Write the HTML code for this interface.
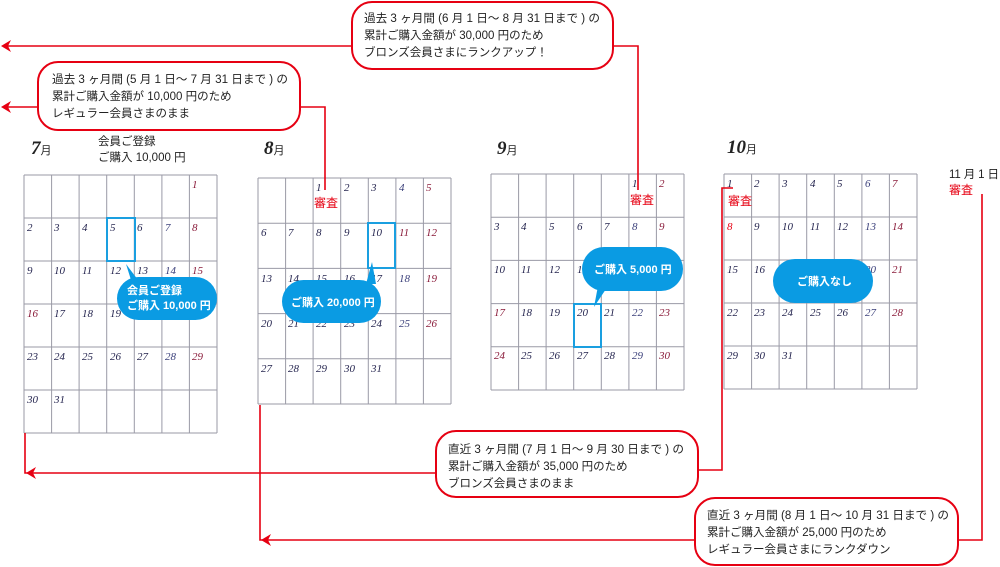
<!DOCTYPE html>
<html><head><meta charset="utf-8"><style>
html,body{margin:0;padding:0;background:#fff;width:1000px;height:567px;overflow:hidden}
svg{display:block}
.n{font-family:"Liberation Serif",serif;font-style:italic;font-size:11px;fill:#262650}
.r{fill:#8a1b3a}.b{fill:#3a3f7a}
.t{font-family:"Liberation Sans","Noto Sans CJK JP",sans-serif;font-size:11.5px;fill:#222}
.w{font-family:"Liberation Sans","Noto Sans CJK JP",sans-serif;font-size:11px;fill:#fff;font-weight:bold}
.red{font-family:"Liberation Sans","Noto Sans CJK JP",sans-serif;font-size:12px;fill:#e60012}
.m{font-family:"Liberation Serif",serif;font-style:italic;font-weight:bold;font-size:19px;fill:#222}
.ms{font-family:"Liberation Sans","Noto Sans CJK JP",sans-serif;font-size:11px;fill:#222}
.g line{stroke:#9a9aa6;stroke-width:1}
</style></head><body>
<svg width="1000" height="567" viewBox="0 0 1000 567" xmlns="http://www.w3.org/2000/svg">

<text x="31" y="154" class="m">7<tspan class="ms" font-style="normal" font-weight="normal">月</tspan></text>
<text x="98" y="145" class="t">会員ご登録</text>
<text x="98" y="161" class="t">ご購入 10,000 円</text>
<text x="264" y="154" class="m">8<tspan class="ms" font-style="normal" font-weight="normal">月</tspan></text>
<text x="497" y="154" class="m">9<tspan class="ms" font-style="normal" font-weight="normal">月</tspan></text>
<text x="727" y="153" class="m">10<tspan class="ms" font-style="normal" font-weight="normal">月</tspan></text>
<text x="949" y="178" class="t" textLength="50">11 月 1 日</text>
<text x="949" y="194" class="red">審査</text>

<g transform="translate(24,175)">
<g class="g">
<line x1="0" y1="0" x2="193" y2="0"/><line x1="0" y1="43" x2="193" y2="43"/><line x1="0" y1="86" x2="193" y2="86"/><line x1="0" y1="129" x2="193" y2="129"/><line x1="0" y1="172" x2="193" y2="172"/><line x1="0" y1="215" x2="193" y2="215"/><line x1="0" y1="258" x2="193" y2="258"/>
<line x1="0" y1="0" x2="0" y2="258"/><line x1="27.6" y1="0" x2="27.6" y2="258"/><line x1="55.1" y1="0" x2="55.1" y2="258"/><line x1="82.7" y1="0" x2="82.7" y2="258"/><line x1="110.3" y1="0" x2="110.3" y2="258"/><line x1="137.9" y1="0" x2="137.9" y2="258"/><line x1="165.4" y1="0" x2="165.4" y2="258"/><line x1="193" y1="0" x2="193" y2="258"/>
</g>
<text class="n r" x="168" y="13">1</text>
<text class="n" x="3" y="56">2</text><text class="n" x="30" y="56">3</text><text class="n" x="58" y="56">4</text><text class="n" x="86" y="56">5</text><text class="n" x="113" y="56">6</text><text class="n b" x="141" y="56">7</text><text class="n r" x="168" y="56">8</text>
<text class="n" x="3" y="99">9</text><text class="n" x="30" y="99">10</text><text class="n" x="58" y="99">11</text><text class="n" x="86" y="99">12</text><text class="n" x="113" y="99">13</text><text class="n b" x="141" y="99">14</text><text class="n r" x="168" y="99">15</text>
<text class="n r" x="3" y="142">16</text><text class="n" x="30" y="142">17</text><text class="n" x="58" y="142">18</text><text class="n" x="86" y="142">19</text><text class="n" x="113" y="142">20</text><text class="n b" x="141" y="142">21</text><text class="n r" x="168" y="142">22</text>
<text class="n" x="3" y="185">23</text><text class="n" x="30" y="185">24</text><text class="n" x="58" y="185">25</text><text class="n" x="86" y="185">26</text><text class="n" x="113" y="185">27</text><text class="n b" x="141" y="185">28</text><text class="n r" x="168" y="185">29</text>
<text class="n" x="3" y="228">30</text><text class="n" x="30" y="228">31</text>
</g>

<g transform="translate(258,178)">
<g class="g">
<line x1="0" y1="0" x2="193" y2="0"/><line x1="0" y1="45.2" x2="193" y2="45.2"/><line x1="0" y1="90.4" x2="193" y2="90.4"/><line x1="0" y1="135.6" x2="193" y2="135.6"/><line x1="0" y1="180.8" x2="193" y2="180.8"/><line x1="0" y1="226" x2="193" y2="226"/>
<line x1="0" y1="0" x2="0" y2="226"/><line x1="27.6" y1="0" x2="27.6" y2="226"/><line x1="55.1" y1="0" x2="55.1" y2="226"/><line x1="82.7" y1="0" x2="82.7" y2="226"/><line x1="110.3" y1="0" x2="110.3" y2="226"/><line x1="137.9" y1="0" x2="137.9" y2="226"/><line x1="165.4" y1="0" x2="165.4" y2="226"/><line x1="193" y1="0" x2="193" y2="226"/>
</g>
<text class="n" x="58" y="13">1</text><text class="n" x="86" y="13">2</text><text class="n" x="113" y="13">3</text><text class="n b" x="141" y="13">4</text><text class="n r" x="168" y="13">5</text>
<text class="n" x="3" y="58">6</text><text class="n" x="30" y="58">7</text><text class="n" x="58" y="58">8</text><text class="n" x="86" y="58">9</text><text class="n" x="113" y="58">10</text><text class="n r" x="141" y="58">11</text><text class="n r" x="168" y="58">12</text>
<text class="n" x="3" y="104">13</text><text class="n" x="30" y="104">14</text><text class="n" x="58" y="104">15</text><text class="n" x="86" y="104">16</text><text class="n" x="113" y="104">17</text><text class="n b" x="141" y="104">18</text><text class="n r" x="168" y="104">19</text>
<text class="n" x="3" y="149">20</text><text class="n" x="30" y="149">21</text><text class="n" x="58" y="149">22</text><text class="n" x="86" y="149">23</text><text class="n" x="113" y="149">24</text><text class="n b" x="141" y="149">25</text><text class="n r" x="168" y="149">26</text>
<text class="n" x="3" y="194">27</text><text class="n" x="30" y="194">28</text><text class="n" x="58" y="194">29</text><text class="n" x="86" y="194">30</text><text class="n" x="113" y="194">31</text>
<text class="red" x="56" y="29">審査</text>
</g>

<g transform="translate(491,174)">
<g class="g">
<line x1="0" y1="0" x2="193" y2="0"/><line x1="0" y1="43.2" x2="193" y2="43.2"/><line x1="0" y1="86.4" x2="193" y2="86.4"/><line x1="0" y1="129.6" x2="193" y2="129.6"/><line x1="0" y1="172.8" x2="193" y2="172.8"/><line x1="0" y1="216" x2="193" y2="216"/>
<line x1="0" y1="0" x2="0" y2="216"/><line x1="27.6" y1="0" x2="27.6" y2="216"/><line x1="55.1" y1="0" x2="55.1" y2="216"/><line x1="82.7" y1="0" x2="82.7" y2="216"/><line x1="110.3" y1="0" x2="110.3" y2="216"/><line x1="137.9" y1="0" x2="137.9" y2="216"/><line x1="165.4" y1="0" x2="165.4" y2="216"/><line x1="193" y1="0" x2="193" y2="216"/>
</g>
<text class="n" x="141" y="13">1</text><text class="n r" x="168" y="13">2</text>
<text class="n" x="3" y="56">3</text><text class="n" x="30" y="56">4</text><text class="n" x="58" y="56">5</text><text class="n" x="86" y="56">6</text><text class="n" x="113" y="56">7</text><text class="n b" x="141" y="56">8</text><text class="n r" x="168" y="56">9</text>
<text class="n" x="3" y="99">10</text><text class="n" x="30" y="99">11</text><text class="n" x="58" y="99">12</text><text class="n" x="86" y="99">13</text><text class="n" x="113" y="99">14</text><text class="n b" x="141" y="99">15</text><text class="n r" x="168" y="99">16</text>
<text class="n r" x="3" y="142">17</text><text class="n" x="30" y="142">18</text><text class="n" x="58" y="142">19</text><text class="n" x="86" y="142">20</text><text class="n" x="113" y="142">21</text><text class="n b" x="141" y="142">22</text><text class="n r" x="168" y="142">23</text>
<text class="n r" x="3" y="185">24</text><text class="n" x="30" y="185">25</text><text class="n" x="58" y="185">26</text><text class="n" x="86" y="185">27</text><text class="n" x="113" y="185">28</text><text class="n b" x="141" y="185">29</text><text class="n r" x="168" y="185">30</text>
<text class="red" x="139" y="30">審査</text>
</g>

<g transform="translate(724,174)">
<g class="g">
<line x1="0" y1="0" x2="193" y2="0"/><line x1="0" y1="43" x2="193" y2="43"/><line x1="0" y1="86" x2="193" y2="86"/><line x1="0" y1="129" x2="193" y2="129"/><line x1="0" y1="172" x2="193" y2="172"/><line x1="0" y1="215" x2="193" y2="215"/>
<line x1="0" y1="0" x2="0" y2="215"/><line x1="27.6" y1="0" x2="27.6" y2="215"/><line x1="55.1" y1="0" x2="55.1" y2="215"/><line x1="82.7" y1="0" x2="82.7" y2="215"/><line x1="110.3" y1="0" x2="110.3" y2="215"/><line x1="137.9" y1="0" x2="137.9" y2="215"/><line x1="165.4" y1="0" x2="165.4" y2="215"/><line x1="193" y1="0" x2="193" y2="215"/>
</g>
<text class="n" x="3" y="13">1</text><text class="n" x="30" y="13">2</text><text class="n" x="58" y="13">3</text><text class="n" x="86" y="13">4</text><text class="n" x="113" y="13">5</text><text class="n b" x="141" y="13">6</text><text class="n r" x="168" y="13">7</text>
<text class="n r" x="3" y="56" style="fill:#e60012">8</text><text class="n" x="30" y="56">9</text><text class="n" x="58" y="56">10</text><text class="n" x="86" y="56">11</text><text class="n" x="113" y="56">12</text><text class="n b" x="141" y="56">13</text><text class="n r" x="168" y="56">14</text>
<text class="n" x="3" y="99">15</text><text class="n" x="30" y="99">16</text><text class="n" x="58" y="99">17</text><text class="n" x="86" y="99">18</text><text class="n" x="113" y="99">19</text><text class="n b" x="141" y="99">20</text><text class="n r" x="168" y="99">21</text>
<text class="n" x="3" y="142">22</text><text class="n" x="30" y="142">23</text><text class="n" x="58" y="142">24</text><text class="n" x="86" y="142">25</text><text class="n" x="113" y="142">26</text><text class="n b" x="141" y="142">27</text><text class="n r" x="168" y="142">28</text>
<text class="n" x="3" y="185">29</text><text class="n" x="30" y="185">30</text><text class="n" x="58" y="185">31</text>
<text class="red" x="4" y="31">審査</text>
</g>

<g stroke="#e60012" stroke-width="1.6" fill="none">
<polyline points="613,46 638,46 638,190"/>
<line x1="352" y1="46" x2="6" y2="46"/>
<polyline points="300,107 325,107 325,190"/>
<line x1="38" y1="107" x2="6" y2="107"/>
<polyline points="698,470 722,470 722,188 733,188"/>
<polyline points="25,433 25,473 436,473"/>
<polyline points="956,540 982,540 982,194"/>
<polyline points="260,405 260,540 695,540"/>
</g>
<g fill="#e60012">
<polygon points="1,46 11,40 8,46 11,52"/>
<polygon points="1,107 11,101 8,107 11,113"/>
<polygon points="26,473 36,467 33,473 36,479"/>
<polygon points="261,540 271,534 268,540 271,546"/>
</g>

<g stroke="#e60012" stroke-width="2" fill="#fff">
<rect x="352" y="2" width="261" height="67" rx="20"/>
<rect x="38" y="62" width="262" height="68" rx="20"/>
<rect x="436" y="431" width="262" height="66" rx="20"/>
<rect x="695" y="498" width="263" height="67" rx="20"/>
</g>
<g class="t">
<text x="364" y="22" textLength="236" lengthAdjust="spacingAndGlyphs">過去 3 ヶ月間 (6 月 1 日〜 8 月 31 日まで ) の</text>
<text x="364" y="39">累計ご購入金額が 30,000 円のため</text>
<text x="364" y="56">ブロンズ会員さまにランクアップ！</text>
<text x="52" y="83" textLength="236" lengthAdjust="spacingAndGlyphs">過去 3 ヶ月間 (5 月 1 日〜 7 月 31 日まで ) の</text>
<text x="52" y="100">累計ご購入金額が 10,000 円のため</text>
<text x="52" y="117">レギュラー会員さまのまま</text>
<text x="448" y="453" textLength="236" lengthAdjust="spacingAndGlyphs">直近 3 ヶ月間 (7 月 1 日〜 9 月 30 日まで ) の</text>
<text x="448" y="470">累計ご購入金額が 35,000 円のため</text>
<text x="448" y="487">ブロンズ会員さまのまま</text>
<text x="707" y="519" textLength="242" lengthAdjust="spacingAndGlyphs">直近 3 ヶ月間 (8 月 1 日〜 10 月 31 日まで ) の</text>
<text x="707" y="536">累計ご購入金額が 25,000 円のため</text>
<text x="707" y="553">レギュラー会員さまにランクダウン</text>
</g>

<g stroke="#1a9fe0" stroke-width="2" fill="none">
<rect x="107" y="218" width="28" height="43"/>
<rect x="368" y="223" width="27" height="45"/>
<rect x="574" y="304" width="27" height="43"/>
</g>
<g fill="#0a9be3">
<polygon points="126,264 131,280 138,280"/>
<rect x="117" y="277" width="100" height="43" rx="21.5"/>
<polygon points="372,262 366,284 376,284"/>
<rect x="282" y="280" width="99" height="43" rx="21.5"/>
<polygon points="594,307 598,286 608,286"/>
<rect x="582" y="247" width="101" height="44" rx="22"/>
<rect x="773" y="259" width="100" height="44" rx="22"/>
</g>
<text class="w" x="127" y="294">会員ご登録</text>
<text class="w" x="127" y="309">ご購入 10,000 円</text>
<text class="w" x="291" y="306">ご購入 20,000 円</text>
<text class="w" x="594" y="273">ご購入 5,000 円</text>
<text class="w" x="797" y="285">ご購入なし</text>
</svg>
</body></html>
